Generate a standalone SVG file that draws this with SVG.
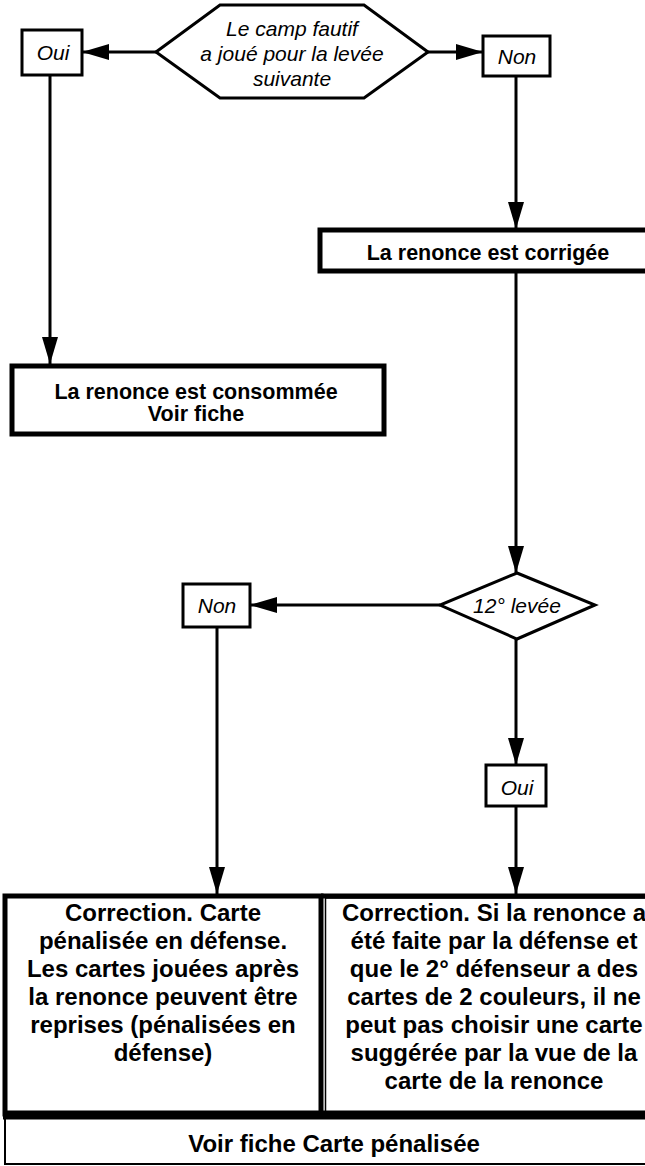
<svg xmlns="http://www.w3.org/2000/svg" width="645" height="1166" viewBox="0 0 645 1166">
<defs>
<marker id="ah" viewBox="0 0 27 16" refX="27" refY="8" markerWidth="27" markerHeight="16" markerUnits="userSpaceOnUse" orient="auto">
<path d="M0,0 L27,8 L0,16 Z" fill="#000"/>
</marker>
<style>
.it{font-family:"Liberation Sans",Arial,sans-serif;font-style:italic;font-size:21px;fill:#000;text-anchor:middle}
.bd{font-family:"Liberation Sans",Arial,sans-serif;font-weight:bold;font-size:21.5px;fill:#000;text-anchor:middle}
.bb{font-family:"Liberation Sans",Arial,sans-serif;font-weight:bold;font-size:24px;fill:#000;text-anchor:middle}
.thin{fill:#fff;stroke:#000;stroke-width:3}
.thick{fill:#fff;stroke:#000;stroke-width:5}
.cn{fill:none;stroke:#000;stroke-width:3;marker-end:url(#ah)}
</style>
</defs>
<rect width="645" height="1166" fill="#fff"/>
<g id="connectors">
<line class="cn" x1="156" y1="52" x2="82" y2="52"/>
<line class="cn" x1="428" y1="52" x2="483" y2="52"/>
<line class="cn" x1="50" y1="75" x2="50" y2="364"/>
<line class="cn" x1="516" y1="76" x2="516" y2="229"/>
<line class="cn" x1="516" y1="272" x2="516" y2="573"/>
<line class="cn" x1="440" y1="605" x2="250" y2="605"/>
<line class="cn" x1="516" y1="639" x2="516" y2="765"/>
<line class="cn" x1="217" y1="627" x2="217" y2="894"/>
<line class="cn" x1="516" y1="806" x2="516" y2="894"/>
</g>
<g id="decision1">
<polygon class="thin" points="156,52 220,5 364,5 428,52 364,98 220,98"/>
<text class="it" x="292" y="36">Le camp fautif</text>
<text class="it" x="292" y="61">a joué pour la levée</text>
<text class="it" x="292" y="86">suivante</text>
</g>
<g id="oui1">
<rect class="thin" x="22" y="30" width="60" height="45"/>
<text class="it" x="53" y="60">Oui</text>
</g>
<g id="non1">
<rect class="thin" x="483" y="36" width="67" height="40"/>
<text class="it" x="517" y="64">Non</text>
</g>
<g id="corrigee">
<rect class="thick" x="320" y="230" width="360" height="41"/>
<text class="bd" x="488" y="260">La renonce est corrigée</text>
</g>
<g id="consommee">
<rect class="thick" x="12" y="366" width="372" height="68"/>
<text class="bd" x="196" y="399">La renonce est consommée</text>
<text class="bd" x="196" y="421">Voir fiche</text>
</g>
<g id="decision2">
<polygon class="thin" points="517,573 595,605 517,639 440,605"/>
<text class="it" x="517" y="613">12° levée</text>
</g>
<g id="non2">
<rect class="thin" x="183" y="584" width="67" height="43"/>
<text class="it" x="217" y="613">Non</text>
</g>
<g id="oui2">
<rect class="thin" x="486" y="765" width="60" height="41"/>
<text class="it" x="517" y="795">Oui</text>
</g>
<g id="correction-non">
<rect class="thick" x="5" y="896" width="316" height="218"/>
<text class="bb" x="163" y="921">Correction. Carte</text>
<text class="bb" x="163" y="949">pénalisée en défense.</text>
<text class="bb" x="163" y="977">Les cartes jouées après</text>
<text class="bb" x="163" y="1005">la renonce peuvent être</text>
<text class="bb" x="163" y="1033">reprises (pénalisées en</text>
<text class="bb" x="163" y="1061">défense)</text>
</g>
<g id="correction-oui">
<rect fill="#fff" stroke="#000" stroke-width="1.5" x="325.5" y="898" width="360" height="214"/>
<line x1="321" y1="896" x2="645" y2="896" stroke="#000" stroke-width="5"/>
<text class="bb" x="494" y="921">Correction. Si la renonce a</text>
<text class="bb" x="494" y="949">été faite par la défense et</text>
<text class="bb" x="494" y="977">que le 2° défenseur a des</text>
<text class="bb" x="494" y="1005">cartes de 2 couleurs, il ne</text>
<text class="bb" x="494" y="1033">peut pas choisir une carte</text>
<text class="bb" x="494" y="1061">suggérée par la vue de la</text>
<text class="bb" x="494" y="1089">carte de la renonce</text>
</g>
<g id="voir-fiche">
<rect fill="#fff" stroke="#000" stroke-width="2" x="5" y="1118" width="680" height="46"/>
<line x1="3" y1="1115" x2="645" y2="1115" stroke="#000" stroke-width="9"/>
<text class="bb" x="334" y="1152">Voir fiche Carte pénalisée</text>
</g>
</svg>
